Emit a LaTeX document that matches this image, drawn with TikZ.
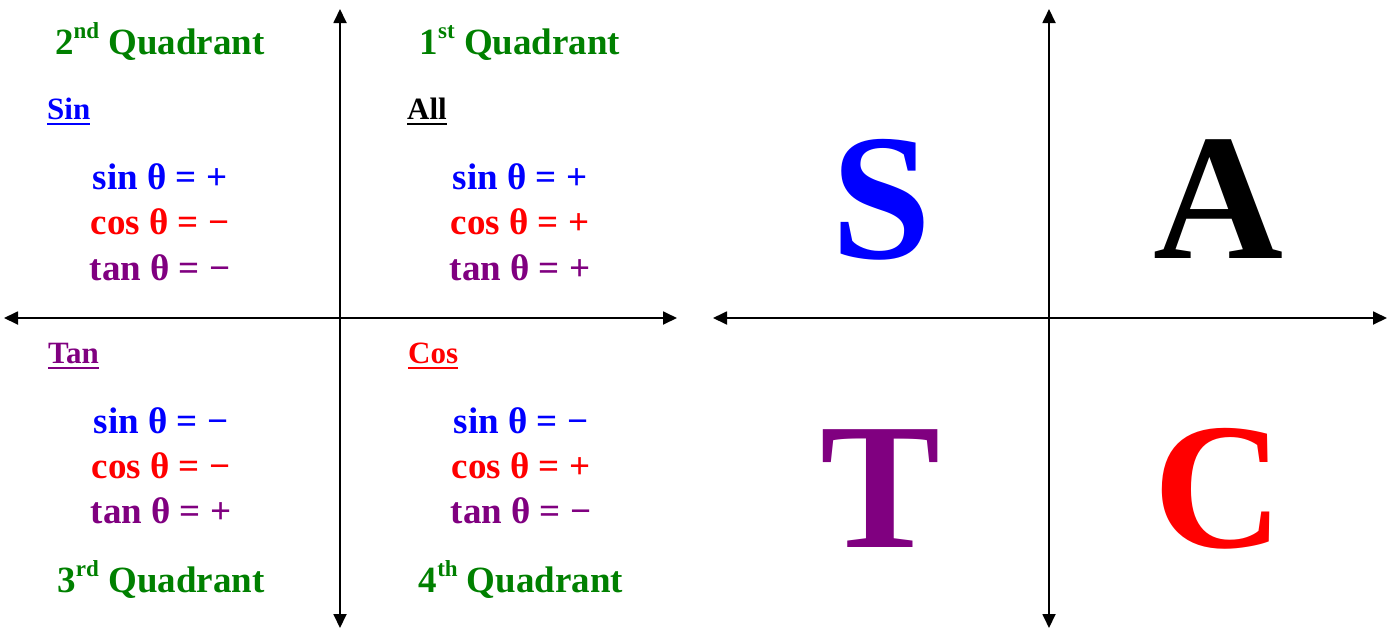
\documentclass[tikz,border=0pt]{standalone}
\usepackage{fontspec}
\setmainfont{Liberation Serif}
\usetikzlibrary{arrows.meta}
\definecolor{qblue}{RGB}{0,0,255}
\definecolor{qred}{RGB}{255,0,0}
\definecolor{qpurple}{RGB}{128,0,128}
\definecolor{qgreen}{RGB}{0,128,0}
\newcommand\sups[1]{\raisebox{0.42em}{\fontsize{23}{23}\selectfont #1}}
\newcommand\trig[2]{#1 θ = #2}
\begin{document}
\begin{tikzpicture}[x=1pt,y=-1pt,
  ax/.style={line width=1.8pt,{Triangle[length=14pt,width=13pt]}-{Triangle[length=14pt,width=13pt]}},
  qtitle/.style={anchor=base,inner sep=0pt,text=qgreen,font=\fontsize{37}{40}\selectfont\bfseries},
  qhead/.style={anchor=base west,inner sep=0pt,font=\fontsize{31}{34}\selectfont\bfseries},
  eqn/.style={anchor=base,inner sep=0pt,font=\fontsize{37}{40}\selectfont\bfseries},
  big/.style={anchor=base,inner sep=0pt,font=\fontsize{180}{188}\selectfont\bfseries},
  ul/.style={line width=2.8pt}]
\useasboundingbox (0,0) rectangle (1388,635);
% left axes
\coordinate (LW) at (4,318);
\coordinate (LE) at (677,318);
\coordinate (LN) at (340,9);
\coordinate (LS) at (340,628);
\draw[ax] (LW) -- (LE);
\draw[ax] (LS) -- (LN);
% right axes
\coordinate (RW) at (713,318);
\coordinate (RE) at (1387,318);
\coordinate (RN) at (1049,9);
\coordinate (RS) at (1049,628);
\draw[ax] (RW) -- (RE);
\draw[ax] (RS) -- (RN);
% quadrant titles
\node[qtitle] (q2) at (160,54) {2\sups{nd} Quadrant};
\node[qtitle] (q1) at (520,54) {1\sups{st} Quadrant};
\node[qtitle] (q3) at (161,592) {3\sups{rd} Quadrant};
\node[qtitle] (q4) at (521,592) {4\sups{th} Quadrant};
% headings
\node[qhead,text=qblue] (hs) at (47,119) {Sin};
\node[qhead,text=black] (ha) at (407,119) {All};
\node[qhead,text=qpurple] (ht) at (48,363) {Tan};
\node[qhead,text=qred] (hc) at (408,363) {Cos};
\draw[ul,qblue] ([yshift=-5pt]hs.base west) -- ([yshift=-5pt]hs.base east);
\draw[ul,black] ([yshift=-5pt]ha.base west) -- ([yshift=-5pt]ha.base east);
\draw[ul,qpurple] ([yshift=-5pt]ht.base west) -- ([yshift=-5pt]ht.base east);
\draw[ul,qred] ([yshift=-5pt]hc.base west) -- ([yshift=-5pt]hc.base east);
% equations Q2
\node[eqn,text=qblue] (s2) at (160,189) {\trig{sin}{+}};
\node[eqn,text=qred] (c2) at (160,234) {\trig{cos}{−}};
\node[eqn,text=qpurple] (t2) at (160,280) {\trig{tan}{−}};
% Q1
\node[eqn,text=qblue] (s1) at (520,189) {\trig{sin}{+}};
\node[eqn,text=qred] (c1) at (520,234) {\trig{cos}{+}};
\node[eqn,text=qpurple] (t1) at (520,280) {\trig{tan}{+}};
% Q3
\node[eqn,text=qblue] (s3) at (161,433) {\trig{sin}{−}};
\node[eqn,text=qred] (c3) at (161,478) {\trig{cos}{−}};
\node[eqn,text=qpurple] (t3) at (161,523) {\trig{tan}{+}};
% Q4
\node[eqn,text=qblue] (s4) at (521,433) {\trig{sin}{−}};
\node[eqn,text=qred] (c4) at (521,478) {\trig{cos}{+}};
\node[eqn,text=qpurple] (t4) at (521,523) {\trig{tan}{−}};
% big letters
\node[big,text=qblue] (S) at (882,258) {S};
\node[big,text=black] (A) at (1218,258) {A};
\node[big,text=qpurple] (T) at (881,547) {T};
\node[big,text=qred] (C) at (1218,547) {C};
\end{tikzpicture}
\end{document}
